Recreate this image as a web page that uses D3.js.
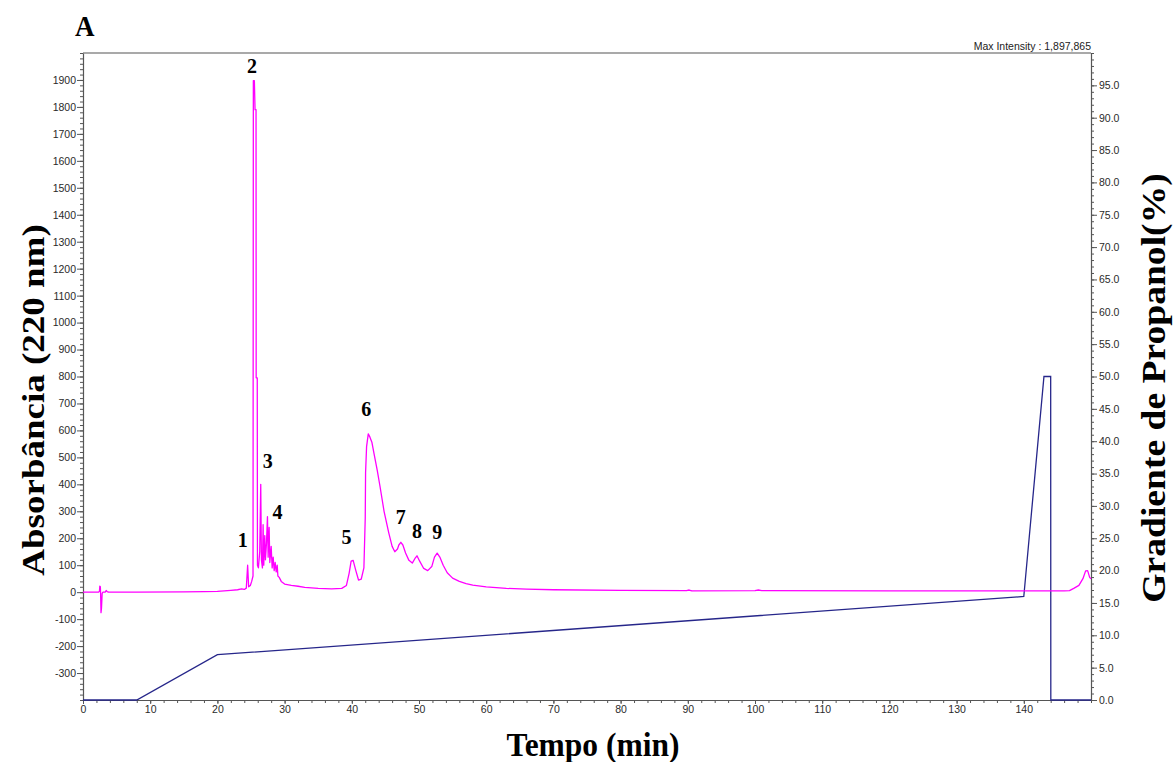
<!DOCTYPE html>
<html>
<head>
<meta charset="utf-8">
<script src="https://cdn.jsdelivr.net/npm/d3@7"></script>
<style>
  html, body { margin: 0; padding: 0; background: #fff; }
  svg { display: block; }
  .tick text { font-family: "Liberation Sans", Arial, sans-serif; font-size: 10.5px; fill: #2a2a2a; }
  .serif { font-family: "Liberation Serif", "Times New Roman", serif; font-weight: bold; fill: #000; }
</style>
</head>
<body>
<script>
// Chromatogram at 220 nm: retention time (min) and absorbance (mAU)
const absTime = [0, 2.3, 2.45, 2.5, 2.58, 2.62, 2.68, 2.75, 2.85, 2.95, 3.3, 3.45, 3.6, 3.8, 8, 15, 18, 20, 21, 22, 23, 23.6, 24.0, 24.3, 24.5, 24.65, 24.9, 25.1, 25.3, 25.35, 25.5, 25.6, 25.75, 25.77, 25.93, 25.96, 26.1, 26.3, 26.45, 26.55, 26.7, 26.8, 26.9, 27.05, 27.15, 27.3, 27.45, 27.55, 27.7, 27.8, 28.0, 28.15, 28.3, 28.45, 28.6, 28.75, 28.9, 29.0, 29.2, 29.5, 30, 31, 32, 33, 35, 37, 38.5, 39.2, 39.6, 39.9, 40.2, 40.6, 41.0, 41.4, 41.8, 42.0, 42.05, 42.2, 42.45, 42.7, 43.0, 43.3, 43.8, 44.2, 44.8, 45.5, 46.0, 46.4, 46.8, 47.0, 47.3, 47.6, 48.0, 48.5, 49.0, 49.4, 49.7, 50.1, 50.7, 51.3, 51.9, 52.3, 52.7, 53.1, 53.6, 54.2, 55, 56, 57, 58, 60, 63, 66, 70, 80, 89.8, 90.2, 90.6, 100, 100.5, 101, 120, 140, 146, 146.8, 147.5, 148.2, 148.8, 149.2, 149.5, 149.8, 150];
const absValue = [0, 0, 3, 22, 20, -5, -76, -60, -5, 0, 0, 6, 2, 0, 0, 1, 2, 3, 5, 7, 9, 12, 10, 15, 100, 20, 25, 40, 60, 1897, 1897, 1790, 1790, 795, 795, 100, 90, 150, 400, 120, 90, 250, 100, 210, 120, 180, 280, 130, 240, 110, 170, 90, 130, 80, 110, 75, 100, 60, 55, 40, 30, 25, 22, 18, 14, 12, 14, 25, 70, 115, 118, 80, 45, 48, 90, 275, 443, 540, 587, 575, 555, 515, 450, 392, 300, 220, 170, 150, 160, 175, 185, 175, 145, 118, 108, 125, 135, 115, 88, 80, 95, 130, 145, 130, 100, 72, 52, 40, 32, 26, 20, 14, 11, 9, 7, 6, 8, 5, 6, 8, 6, 5, 5, 5, 6, 15, 25, 50, 79, 80, 55, 50];

// Propanol gradient program: time (min) and % propanol
const gradTime = [0, 8, 20, 140, 143, 144, 144.02, 150];
const gradPct = [0, 0, 7, 16, 50, 50, 0, 0];

// Numbered peaks: label, retention time, apex absorbance
const peakNames = ["1", "2", "3", "4", "5", "6", "7", "8", "9"];
const peakTimes = [24.5, 25.45, 26.45, 27.45, 40.1, 42.45, 47.3, 49.7, 52.7];
const peakHeights = [100, 1897, 400, 280, 118, 587, 185, 135, 145];

// Axis ticks
const xTicks = d3.range(0, 141, 10);
const xMinor = d3.range(0, 151, 2);
const leftTicks = d3.range(-300, 1901, 100);
const leftMinor = d3.range(-400, 2001, 20);
const rightTicks = d3.range(0, 96, 5);
const rightMinor = d3.range(0, 101, 1);

const W = 1173, H = 762;
const m = { left: 83, right: 1091, top: 53, bottom: 700 };

const svg = d3.select("body").append("svg").attr("width", W).attr("height", H);

const x = d3.scaleLinear().domain([0, 150]).range([m.left, m.right]);
const yL = d3.scaleLinear().domain([-400, 2000]).range([m.bottom, m.top]);
const yR = d3.scaleLinear().domain([0, 100]).range([m.bottom, m.top]);

const axisColor = "#555";

// frame top line
svg.append("line")
  .attr("x1", m.left).attr("x2", m.right)
  .attr("y1", m.top).attr("y2", m.top)
  .attr("stroke", axisColor).attr("stroke-width", 1.2);

// minor ticks
svg.append("g").attr("transform", `translate(${m.left},0)`)
  .call(d3.axisLeft(yL).tickValues(leftMinor).tickSize(3).tickFormat(""))
  .call(g => g.select(".domain").remove())
  .selectAll("line").attr("stroke", axisColor);
svg.append("g").attr("transform", `translate(${m.right},0)`)
  .call(d3.axisRight(yR).tickValues(rightMinor).tickSize(3).tickFormat(""))
  .call(g => g.select(".domain").remove())
  .selectAll("line").attr("stroke", axisColor);
svg.append("g").attr("transform", `translate(0,${m.bottom})`)
  .call(d3.axisBottom(x).tickValues(xMinor).tickSize(3).tickFormat(""))
  .call(g => g.select(".domain").remove())
  .selectAll("line").attr("stroke", axisColor);

// major axes
const gL = svg.append("g").attr("transform", `translate(${m.left},0)`)
  .call(d3.axisLeft(yL).tickValues(leftTicks).tickSize(6).tickSizeOuter(0).tickPadding(1).tickFormat(d => String(d)));
const gR = svg.append("g").attr("transform", `translate(${m.right},0)`)
  .call(d3.axisRight(yR).tickValues(rightTicks).tickSize(6).tickSizeOuter(0).tickPadding(2).tickFormat(d3.format(".1f")));
const gX = svg.append("g").attr("transform", `translate(0,${m.bottom})`)
  .call(d3.axisBottom(x).tickValues(xTicks).tickSize(4).tickSizeOuter(0).tickPadding(2).tickFormat(d => String(d)));
[gL, gR, gX].forEach(g => {
  g.select(".domain").attr("stroke", axisColor).attr("stroke-width", 1.2);
  g.selectAll(".tick line").attr("stroke", axisColor);
});

// gradient trace
const gradLine = d3.line().x((d, i) => x(gradTime[i])).y((d, i) => yR(gradPct[i]));
svg.append("path")
  .datum(gradPct)
  .attr("d", gradLine)
  .attr("fill", "none")
  .attr("stroke", "#26268a")
  .attr("stroke-width", 1.3);

// absorbance trace
const absLine = d3.line().x((d, i) => x(absTime[i])).y((d, i) => yL(absValue[i]));
svg.append("path")
  .datum(absValue)
  .attr("d", absLine)
  .attr("fill", "none")
  .attr("stroke", "#ff00ff")
  .attr("stroke-width", 1.3)
  .attr("stroke-linejoin", "round");

// peak numbers, offset from each apex
const labelOffsets = [[-5, 18], [-2, 8], [7, 16], [10, -2], [-6, 16], [-2, 18], [0, 18], [0, 18], [0, 14]];
peakNames.forEach((name, i) => {
  const px = x(peakTimes[i]) + labelOffsets[i][0];
  const py = yL(peakHeights[i]) - labelOffsets[i][1];
  svg.append("text").attr("class", "serif")
    .attr("transform", `translate(${px},${py}) scale(1,1.1)`)
    .attr("text-anchor", "middle")
    .attr("font-size", 20)
    .text(name);
});

// panel letter
svg.append("text").attr("class", "serif")
  .attr("transform", "translate(75,36) scale(1,1.1)")
  .attr("font-size", 27)
  .text("A");

// max intensity note
svg.append("text")
  .attr("x", m.right).attr("y", 49.5)
  .attr("text-anchor", "end")
  .attr("font-family", "Liberation Sans, Arial, sans-serif")
  .attr("font-size", 10.5)
  .attr("fill", "#222")
  .text("Max Intensity : 1,897,865");

// axis titles
svg.append("text").attr("class", "serif")
  .attr("transform", "translate(593,756) scale(1,1.1)")
  .attr("text-anchor", "middle")
  .attr("font-size", 31.5)
  .text("Tempo (min)");

svg.append("text").attr("class", "serif")
  .attr("transform", "translate(44,400) rotate(-90) scale(1,0.88)")
  .attr("text-anchor", "middle")
  .attr("font-size", 37)
  .text("Absorbância (220 nm)");

svg.append("text").attr("class", "serif")
  .attr("transform", "translate(1165,388) rotate(-90) scale(1,0.88)")
  .attr("text-anchor", "middle")
  .attr("font-size", 37.6)
  .text("Gradiente de Propanol(%)");
</script>
</body>
</html>
